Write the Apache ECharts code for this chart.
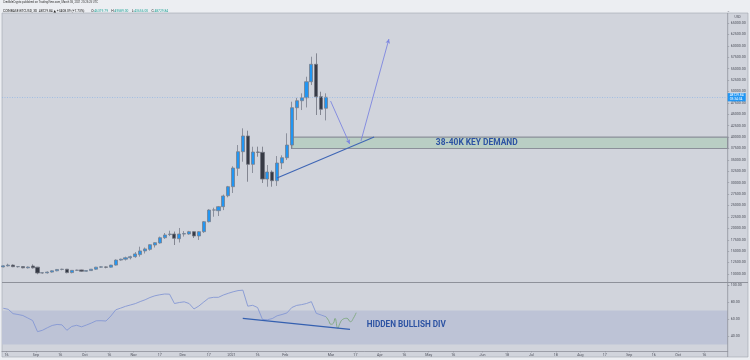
<!DOCTYPE html>
<html><head><meta charset="utf-8">
<script src="https://cdn.jsdelivr.net/npm/echarts@6/dist/echarts.min.js"></script>
<style>html,body{margin:0;padding:0;background:#eceef2;}#c{width:750px;height:360px;}</style>
</head><body><div id="c"></div>
<script>
// ---- data (3-day candles, COINBASE:BTCUSD) ----
const dates = ['2020-08-12','2020-08-15','2020-08-18','2020-08-21','2020-08-24','2020-08-27','2020-08-30','2020-09-02','2020-09-05','2020-09-08',
'2020-09-11','2020-09-14','2020-09-17','2020-09-20','2020-09-23','2020-09-26','2020-09-29','2020-10-02','2020-10-05','2020-10-08',
'2020-10-11','2020-10-14','2020-10-17','2020-10-20','2020-10-23','2020-10-26','2020-10-29','2020-11-01','2020-11-04','2020-11-07',
'2020-11-10','2020-11-13','2020-11-16','2020-11-19','2020-11-22','2020-11-25','2020-11-28','2020-12-01','2020-12-04','2020-12-07',
'2020-12-10','2020-12-13','2020-12-16','2020-12-19','2020-12-22','2020-12-25','2020-12-28','2020-12-31','2021-01-03','2021-01-06',
'2021-01-09','2021-01-12','2021-01-15','2021-01-18','2021-01-21','2021-01-24','2021-01-27','2021-01-30','2021-02-02','2021-02-05',
'2021-02-08','2021-02-11','2021-02-14','2021-02-17','2021-02-20','2021-02-23','2021-02-26'];
const opens = [11550,11780,11950,11600,11620,11350,11750,11500,10220,10250,
10420,10700,10990,11050,10300,10800,10900,10600,10750,11050,
11500,11550,11500,11950,13050,13250,13550,13800,14250,15050,
15400,16350,16800,17950,18650,18760,17730,18760,18760,19270,
18330,19270,21460,24000,23870,24750,27150,29130,33160,36800,
40240,34030,36730,36660,30810,32350,30440,34320,35480,38260,
46440,47970,48630,52130,55950,48850,46319.79];
const closes = [11780,11950,11600,11620,11350,11530,11350,10220,10280,10420,
10700,10990,11050,10300,10800,10850,10600,10750,11050,11500,
11560,11480,11950,13050,13250,13550,13800,14400,15050,15500,
16420,16860,17950,18550,18760,17820,18760,18850,19270,18330,
19270,21460,24020,24050,24750,27100,29130,33220,36800,40240,
34030,36730,36660,30810,32350,30440,34320,35480,38260,46440,
47970,48630,52130,55950,48850,46100,48729.84];
const lows = [11450,11650,11500,11400,11250,11200,11200,9950,10050,10100,
10300,10600,10800,10150,10150,10650,10450,10500,10650,10900,
11350,11250,11400,11850,12900,12950,13200,13550,13800,14500,
15100,15800,16650,17700,18300,16350,16900,18200,18600,17890,
17450,19000,21300,22550,22700,24000,26800,27750,31500,34600,
30220,32130,35700,29940,29130,29130,29300,33000,35000,37400,
43740,45930,46500,51410,44840,44840,43656];
const highs = [11900,12250,12100,11750,11750,11650,12100,11550,10400,10550,
10800,11100,11150,11100,10850,10950,10950,10800,11100,11550,
11700,11650,12000,13200,13350,13800,14000,14800,15980,15800,
16500,16950,18200,18980,19490,19300,20080,19400,19450,19400,
19400,21600,24200,24530,24900,27400,29300,33600,38260,41920,
41400,37890,37900,37900,33880,32700,35850,36000,40830,47750,
48600,49590,53230,57610,58350,49940,49589];
const rsi = [72.6,71.4,66.3,65.3,64.1,61.2,58.2,45.1,46.7,49.7,
52.4,53.6,53.1,46.7,51.2,52.6,50.8,52.9,55.2,57.9,
58.0,57.6,63.5,70.8,72.8,74.9,76.5,78.1,80.5,82.6,
85.3,87.3,88.5,89.4,89.2,78.2,79.4,80.2,78.2,71.8,
75.3,80.0,84.5,85.5,85.5,88.2,90.2,92.0,93.4,93.9,
75.1,76.1,73.5,59.5,59.1,60.5,63.8,65.3,67.1,73.5,
76.0,76.9,78.2,80.4,66.7,64.7,62.6];
// hand-drawn RSI projection (green squiggle)
const projDates = ['2021-02-26T00:00','2021-02-27T12:00','2021-03-01T00:00','2021-03-02T12:00','2021-03-03T12:00','2021-03-05T06:00','2021-03-06T12:00','2021-03-08T06:00','2021-03-10T18:00','2021-03-13T00:00','2021-03-14T18:00','2021-03-16T12:00'];
const projRsi = [62.6,58.5,53.8,54.9,60.8,49.1,54.9,59.6,60.8,56.8,60.8,67.4];
// x-axis tick labels
const tickDates = ['2020-08-14','2020-09-01','2020-09-16','2020-10-01','2020-10-16','2020-10-31','2020-11-16','2020-11-30','2020-12-16','2020-12-30','2021-01-15','2021-02-01','2021-03-01','2021-03-16','2021-03-31','2021-04-15','2021-04-30','2021-05-15','2021-06-02','2021-06-17','2021-07-02','2021-07-17','2021-08-01','2021-08-16','2021-08-31','2021-09-15','2021-09-30','2021-10-16'];
const tickLabels = ['16','Sep','16','Oct','16','Nov','17','Dec','17','2021','16','Feb','Mar','17','Apr','16','May','16','Jun','18','Jul','18','Aug','17','Sep','16','Oct','16'];
const rsiTicks = [40,60,80,100];
const lastPrice = 48729.84;
const zone = [37500, 40000];
// drawings (date, price)
const trendLine = [['2021-01-26T22:00',31030],['2021-03-27T12:00',40020]];
const arrowDown = [['2021-02-28T19:00',47900],['2021-03-12T12:00',38480]];
const arrowUp = [['2021-03-19T10:00',39140],['2021-04-05T14:00',61490]];
const divLine = [['2021-01-05T22:00',60.8],['2021-03-12T17:00',47.9]];
const xMin = '2020-08-11T05:00', xMax = '2021-10-30T10:00';

const T = s => Date.parse(s.length === 10 ? s + 'T00:00:00Z' : s + ':00Z');
const candleData = dates.map((d, i) => [T(d), opens[i], closes[i], lows[i], highs[i]]);
const rsiData = dates.map((d, i) => [T(d), rsi[i]]);
const projData = projDates.map((d, i) => [T(d), projRsi[i]]);
const labelMap = {}; tickDates.forEach((d, i) => labelMap[T(d)] = tickLabels[i]);
const pt = p => ({coord: [T(p[0]), p[1]]});

const FONT = 'Roboto, "DejaVu Sans", sans-serif';
const axisTxt = {color: '#4c4f5a', fontSize: 3.6, fontFamily: FONT};
const chart = echarts.init(document.getElementById('c'), null, {renderer: 'canvas'});
const option = {
  animation: false,
  textStyle: {fontFamily: FONT},
  graphic: [
    {type: 'rect', z: -10, shape: {x: 2, y: 13, width: 746, height: 344}, style: {fill: '#d1d4dc', stroke: '#a3a6af', lineWidth: 0.6}},
    {type: 'line', z: 5, shape: {x1: 2, y1: 282.5, x2: 748, y2: 282.5}, style: {stroke: '#8e919a', lineWidth: 1}},
    {type: 'line', z: 5, shape: {x1: 727.7, y1: 13, x2: 727.7, y2: 357}, style: {stroke: '#8e919a', lineWidth: 0.8}},
    {type: 'text', left: 3, top: 1.2, style: {text: 'CredibleCrypto published on TradingView.com, March 05, 2021 20:25:25 UTC', fontSize: 2.8, fill: '#333', fontFamily: FONT}},
    {type: 'text', left: 3, top: 5.6, style: {
      text: '{b|COINBASE:BTCUSD, 3D  48729.84 ▲ +3408.09 (+7.73%)}  {b|O:}{g|46319.79} {b|H:}{g|49589.00} {b|L:}{g|43656.00} {b|C:}{g|48729.84}',
      rich: {b: {fontSize: 3.3, fill: '#222', fontFamily: FONT}, g: {fontSize: 3.3, fill: '#26a69a', fontFamily: FONT}}}},
    {type: 'text', left: 734.5, top: 15.5, style: {text: 'USD', fontSize: 3.3, fill: '#4c4f5a', fontFamily: FONT}}
  ],
  grid: [
    {left: 2, top: 11.6, width: 725.7, height: 273.8},
    {left: 2, top: 283, width: 725.7, height: 68}
  ],
  xAxis: [
    {type: 'value', gridIndex: 0, min: T(xMin), max: T(xMax), axisLine: {show: false}, axisTick: {show: false}, axisLabel: {show: false}, splitLine: {show: false}},
    {type: 'value', gridIndex: 1, min: T(xMin), max: T(xMax),
      axisLine: {show: true, onZero: false, lineStyle: {color: '#8e919a', width: 0.8}},
      axisTick: {show: true, customValues: tickDates.map(T), length: 1.5, lineStyle: {color: '#8e919a', width: 0.6}},
      axisLabel: Object.assign({customValues: tickDates.map(T), margin: 2.5, formatter: v => labelMap[v] || ''}, axisTxt),
      splitLine: {show: false}}
  ],
  yAxis: [
    {type: 'value', gridIndex: 0, position: 'right', min: 7500, max: 67500, interval: 2500,
      axisLine: {show: false}, splitLine: {show: false},
      axisTick: {show: true, length: 1.5, lineStyle: {color: '#8e919a', width: 0.6}},
      axisLabel: Object.assign({margin: 3, formatter: v => (v <= 7500 || v >= 67500) ? '' : v.toFixed(2)}, axisTxt)},
    {type: 'value', gridIndex: 1, position: 'right', min: 22.35, max: 102.35,
      axisLine: {show: false}, splitLine: {show: false},
      axisTick: {show: true, customValues: rsiTicks, length: 1.5, lineStyle: {color: '#8e919a', width: 0.6}},
      axisLabel: Object.assign({customValues: rsiTicks, margin: 3, formatter: v => v.toFixed(2)}, axisTxt)}
  ],
  series: [
    {type: 'candlestick', xAxisIndex: 0, yAxisIndex: 0, data: candleData, barWidth: 3.6,
      itemStyle: {color: '#2196f3', color0: '#363a45', borderColor: '#7a7f8c', borderColor0: '#6e727d', borderWidth: 0.8},
      markArea: {silent: true, data: [[
        {coord: [T('2021-02-05'), zone[1]], itemStyle: {color: '#b9cec4', borderColor: '#8b8f99', borderWidth: 1.2},
          label: {show: true, position: 'inside', offset: [-33, 0.5], formatter: '38-40K KEY DEMAND', color: '#2d53a3', fontWeight: 'bold', fontSize: 8.4, fontFamily: FONT}},
        {coord: [T(xMax), zone[0]]}
      ]]},
      markLine: {silent: true, symbol: ['none', 'none'], animation: false, data: [
        {yAxis: lastPrice, lineStyle: {type: [1, 1.5], color: '#8db5e6', width: 0.7},
          label: {show: true, position: 'end', distance: 0, formatter: '48729.84\n03:34:34', color: '#fff', backgroundColor: '#2196f3', fontSize: 3.3, lineHeight: 3.8, padding: [0.3, 2.2, 0.3, 2], fontFamily: FONT}},
        [Object.assign(pt(trendLine[0]), {symbol: 'none', lineStyle: {color: '#3f66b5', width: 1.1, type: 'solid'}, label: {show: false}}),
         Object.assign(pt(trendLine[1]), {symbol: 'none', lineStyle: {color: '#3f66b5', width: 1.1, type: 'solid'}})],
        [Object.assign(pt(arrowDown[0]), {symbol: 'none', lineStyle: {color: '#7d86e0', width: 0.9, type: 'solid'}, label: {show: false}}),
         Object.assign(pt(arrowDown[1]), {symbol: 'arrow', symbolSize: [3.5, 4.5], lineStyle: {color: '#7d86e0', width: 0.9, type: 'solid'}})],
        [Object.assign(pt(arrowUp[0]), {symbol: 'none', lineStyle: {color: '#7d86e0', width: 0.9, type: 'solid'}, label: {show: false}}),
         Object.assign(pt(arrowUp[1]), {symbol: 'arrow', symbolSize: [3.5, 4.5], lineStyle: {color: '#7d86e0', width: 0.9, type: 'solid'}})]
      ]}
    },
    {type: 'line', xAxisIndex: 1, yAxisIndex: 1, data: rsiData, symbol: 'none', lineStyle: {color: '#8597d4', width: 0.9},
      markArea: {silent: true, data: [[{yAxis: 70, itemStyle: {color: '#bdc3d6'}}, {yAxis: 30}]]},
      markLine: {silent: true, symbol: ['none', 'none'], data: [
        [Object.assign(pt(divLine[0]), {lineStyle: {color: '#3560b0', width: 1.2, type: 'solid'}, label: {show: false}}),
         Object.assign(pt(divLine[1]), {lineStyle: {color: '#3560b0', width: 1.2, type: 'solid'}})]
      ]},
      markPoint: {silent: true, symbol: 'circle', symbolSize: 0, data: [
        {coord: [T('2021-03-23'), 52.9], label: {show: true, position: 'right', distance: 0, formatter: 'HIDDEN BULLISH DIV', color: '#2d53a3', fontWeight: 'bold', fontSize: 8.2, fontFamily: FONT}}
      ]}
    },
    {type: 'line', xAxisIndex: 1, yAxisIndex: 1, data: projData, smooth: 0.5, symbol: 'none', lineStyle: {color: '#7fa87f', width: 0.9}}
  ]
};
chart.setOption(option);
</script></body></html>
